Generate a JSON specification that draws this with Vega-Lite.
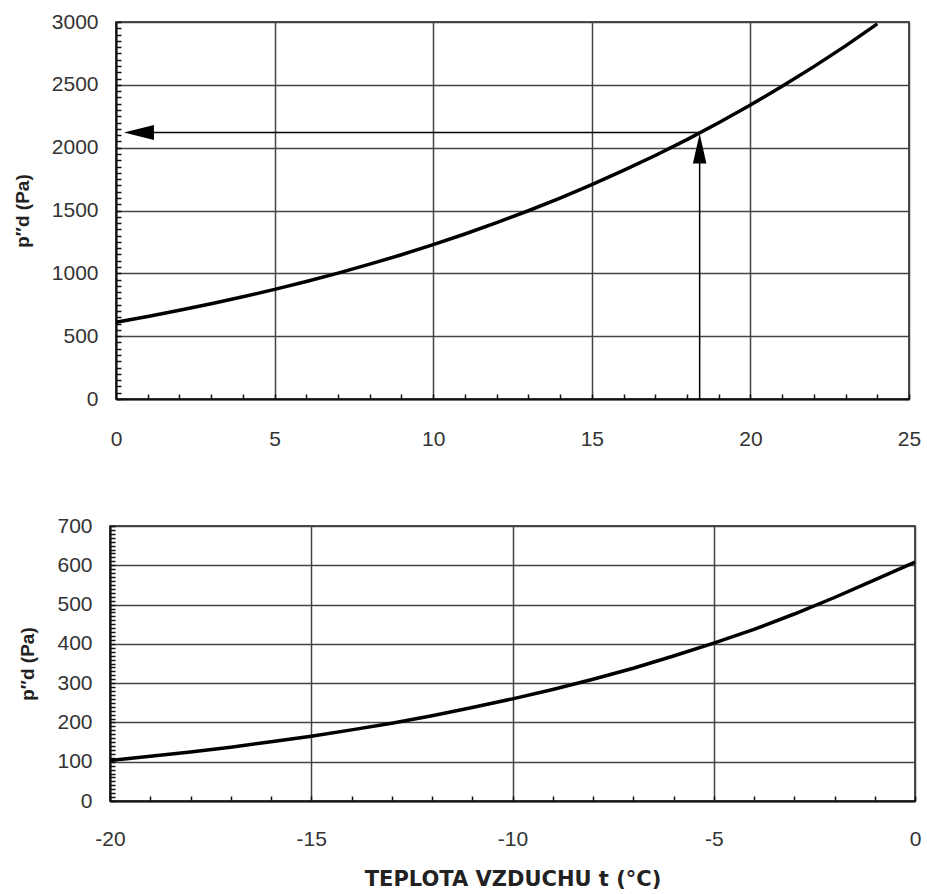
{
  "$schema": "https://vega.github.io/schema/vega-lite/v6.json",
  "background": "white",
  "padding": {"left": 12, "top": 10, "right": 5, "bottom": 5},
  "spacing": 127,
  "bounds": "flush",
  "center": true,
  "columns": 1,
  "datasets": {
    "curveTop": [
      {"t": 0, "p": 611}, {"t": 1, "p": 657}, {"t": 2, "p": 706}, {"t": 3, "p": 758},
      {"t": 4, "p": 813}, {"t": 5, "p": 872}, {"t": 6, "p": 935}, {"t": 7, "p": 1002},
      {"t": 8, "p": 1073}, {"t": 9, "p": 1148}, {"t": 10, "p": 1228}, {"t": 11, "p": 1313},
      {"t": 12, "p": 1403}, {"t": 13, "p": 1498}, {"t": 14, "p": 1599}, {"t": 15, "p": 1706},
      {"t": 16, "p": 1819}, {"t": 17, "p": 1938}, {"t": 18, "p": 2064}, {"t": 19, "p": 2198},
      {"t": 20, "p": 2339}, {"t": 21, "p": 2488}, {"t": 22, "p": 2645}, {"t": 23, "p": 2810},
      {"t": 24, "p": 2985}
    ],
    "curveBottom": [
      {"t": -20, "p": 103}, {"t": -19, "p": 114}, {"t": -18, "p": 125}, {"t": -17, "p": 137},
      {"t": -16, "p": 151}, {"t": -15, "p": 165}, {"t": -14, "p": 181}, {"t": -13, "p": 198},
      {"t": -12, "p": 217}, {"t": -11, "p": 238}, {"t": -10, "p": 260}, {"t": -9, "p": 284},
      {"t": -8, "p": 310}, {"t": -7, "p": 338}, {"t": -6, "p": 369}, {"t": -5, "p": 402},
      {"t": -4, "p": 437}, {"t": -3, "p": 476}, {"t": -2, "p": 518}, {"t": -1, "p": 563},
      {"t": 0, "p": 608}
    ],
    "arrowLines": [
      {"t": 18.4, "t2": 18.4, "p": 0, "p2": 1900},
      {"t": 0.9, "t2": 18.4, "p": 2120, "p2": 2120}
    ],
    "headUp": [{"t": 18.4, "p": 2112}],
    "headLeft": [{"t": 0.25, "p": 2120}]
  },
  "config": {
    "view": {"stroke": "#111", "strokeWidth": 1.5},
    "axis": {
      "labelFont": "Liberation Sans",
      "labelFontSize": 21,
      "labelColor": "#333",
      "domainColor": "#111",
      "domainWidth": 2,
      "tickColor": "#111",
      "tickWidth": 1.5,
      "tickSize": -5,
      "gridColor": "#444",
      "gridWidth": 1.5,
      "titleFont": "DejaVu Sans",
      "titleFontSize": 21,
      "titleFontWeight": "bold",
      "titleColor": "#222",
      "labelOverlap": false,
      "labelFlush": false
    },
    "axisY": {"titleFont": "Liberation Sans", "titleFontSize": 19}
  },
  "concat": [
    {
      "width": 793,
      "height": 377,
      "encoding": {
        "x": {
          "field": "t", "type": "quantitative",
          "scale": {"domain": [0, 25], "nice": false, "zero": false},
          "axis": {
            "title": null,
            "values": [0,1,2,3,4,5,6,7,8,9,10,11,12,13,14,15,16,17,18,19,20,21,22,23,24,25],
            "labelExpr": "datum.value % 5 === 0 ? '' + datum.value : ''",
            "gridOpacity": {"condition": {"test": "datum.value % 5 === 0", "value": 1}, "value": 0},
            "labelPadding": 34
          }
        },
        "y": {
          "field": "p", "type": "quantitative",
          "scale": {"domain": [0, 3000], "nice": false},
          "axis": {
            "title": "p″d (Pa)",
            "titlePadding": 19,
            "values": [0,50,100,150,200,250,300,350,400,450,500,550,600,650,700,750,800,850,900,950,1000,1050,1100,1150,1200,1250,1300,1350,1400,1450,1500,1550,1600,1650,1700,1750,1800,1850,1900,1950,2000,2050,2100,2150,2200,2250,2300,2350,2400,2450,2500,2550,2600,2650,2700,2750,2800,2850,2900,2950,3000],
            "labelExpr": "datum.value % 500 === 0 ? '' + datum.value : ''",
            "gridOpacity": {"condition": {"test": "datum.value % 500 === 0", "value": 1}, "value": 0},
            "labelPadding": 23
          }
        }
      },
      "layer": [
        {
          "data": {"name": "curveTop"},
          "mark": {"type": "line", "color": "#000", "strokeWidth": 3.5}
        },
        {
          "data": {"name": "arrowLines"},
          "mark": {"type": "rule", "color": "#000", "strokeWidth": 1.5},
          "encoding": {
            "x2": {"field": "t2"},
            "y2": {"field": "p2"}
          }
        },
        {
          "data": {"name": "headUp"},
          "mark": {"type": "point", "filled": true, "color": "#000", "opacity": 1, "size": 900, "shape": "M0,0L0.45,2L-0.45,2Z"}
        },
        {
          "data": {"name": "headLeft"},
          "mark": {"type": "point", "filled": true, "color": "#000", "opacity": 1, "size": 900, "shape": "M0,0L2,-0.5L2,0.5Z"}
        }
      ]
    },
    {
      "width": 805,
      "height": 275,
      "data": {"name": "curveBottom"},
      "mark": {"type": "line", "color": "#000", "strokeWidth": 3.5},
      "encoding": {
        "x": {
          "field": "t", "type": "quantitative",
          "scale": {"domain": [-20, 0], "nice": false, "zero": false},
          "axis": {
            "title": "TEPLOTA VZDUCHU t (°C)",
            "titlePadding": 19,
            "values": [-20,-19,-18,-17,-16,-15,-14,-13,-12,-11,-10,-9,-8,-7,-6,-5,-4,-3,-2,-1,0],
            "labelExpr": "datum.value % 5 === 0 ? '' + datum.value : ''",
            "gridOpacity": {"condition": {"test": "datum.value % 5 === 0", "value": 1}, "value": 0},
            "labelPadding": 32
          }
        },
        "y": {
          "field": "p", "type": "quantitative",
          "scale": {"domain": [0, 700], "nice": false},
          "axis": {
            "title": "p″d (Pa)",
            "titlePadding": 19,
            "values": [0,10,20,30,40,50,60,70,80,90,100,110,120,130,140,150,160,170,180,190,200,210,220,230,240,250,260,270,280,290,300,310,320,330,340,350,360,370,380,390,400,410,420,430,440,450,460,470,480,490,500,510,520,530,540,550,560,570,580,590,600,610,620,630,640,650,660,670,680,690,700],
            "labelExpr": "datum.value % 100 === 0 ? '' + datum.value : ''",
            "gridOpacity": {"condition": {"test": "datum.value % 100 === 0", "value": 1}, "value": 0},
            "labelPadding": 23
          }
        }
      }
    }
  ]
}
